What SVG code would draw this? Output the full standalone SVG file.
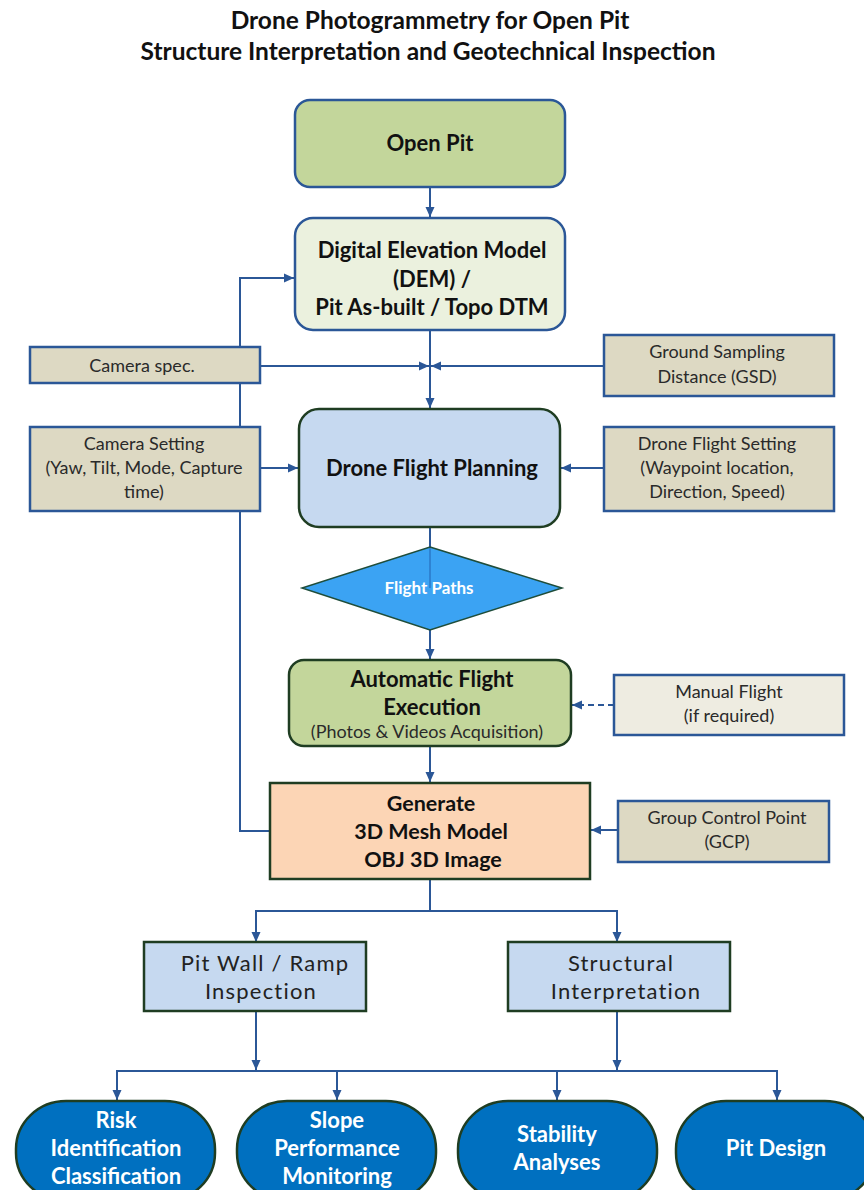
<svg xmlns="http://www.w3.org/2000/svg" width="864" height="1190" viewBox="0 0 864 1190">
<defs>
<marker id="ah" markerUnits="userSpaceOnUse" markerWidth="10" markerHeight="10" viewBox="0 0 10 10" refX="10" refY="5" orient="auto">
<path d="M0,0.5 L10,5 L0,9.5 Z" fill="#2b5797"/>
</marker>
<style>
.c{fill:none;stroke:#2b5797;stroke-width:2}
.bl{stroke:#2b5797;stroke-width:2.5}
.gr{stroke:#1f3d22;stroke-width:2.5}
.tan{fill:#ddd9c3}
.t{font-family:Lato,"Liberation Sans",sans-serif;fill:#111;text-anchor:middle}
.h{font-weight:bold;font-size:24.5px}
.b{font-weight:bold;font-size:22px}
.g{font-weight:bold;font-size:21.5px}
.s{font-size:18px;fill:#2a2a2a}
.m{font-size:22px;fill:#222;letter-spacing:1.2px}
.w{font-family:Lato,"Liberation Sans",sans-serif;fill:#fff;font-weight:bold;font-size:22px;text-anchor:middle}
.fp{font-family:Lato,"Liberation Sans",sans-serif;fill:#fff;font-weight:bold;font-size:17px;text-anchor:middle}
</style>
</defs>
<rect width="864" height="1190" fill="#fff"/>
<g id="title">
<text class="t h" x="430" y="29">Drone Photogrammetry for Open Pit</text>
<text class="t h" x="428" y="60">Structure Interpretation and Geotechnical Inspection</text>
</g>
<g id="connectors">
<line class="c" x1="430" y1="187" x2="430" y2="217" marker-end="url(#ah)"/>
<line class="c" x1="430" y1="330" x2="430" y2="408" marker-end="url(#ah)"/>
<polyline class="c" points="270,831 240,831 240,278 294,278" marker-end="url(#ah)"/>
<line class="c" x1="260" y1="366" x2="429" y2="366" marker-end="url(#ah)"/>
<line class="c" x1="604" y1="366" x2="431" y2="366" marker-end="url(#ah)"/>
<line class="c" x1="260" y1="468" x2="298" y2="468" marker-end="url(#ah)"/>
<line class="c" x1="604" y1="468" x2="561" y2="468" marker-end="url(#ah)"/>
<line class="c" x1="430" y1="527" x2="430" y2="548"/>
<line class="c" x1="430" y1="630" x2="430" y2="659" marker-end="url(#ah)"/>
<line class="c" x1="614" y1="705" x2="572" y2="705" stroke-dasharray="6,4" marker-end="url(#ah)"/>
<line class="c" x1="430" y1="746" x2="430" y2="782" marker-end="url(#ah)"/>
<line class="c" x1="618" y1="830" x2="591" y2="830" marker-end="url(#ah)"/>
<line class="c" x1="430" y1="879" x2="430" y2="911"/>
<polyline class="c" points="256,942 256,911 617,911 617,942"/>
<line class="c" x1="256" y1="930" x2="256" y2="942" marker-end="url(#ah)"/>
<line class="c" x1="617" y1="930" x2="617" y2="942" marker-end="url(#ah)"/>
<line class="c" x1="256" y1="1011" x2="256" y2="1070" marker-end="url(#ah)"/>
<line class="c" x1="617" y1="1011" x2="617" y2="1070" marker-end="url(#ah)"/>
<line class="c" x1="117" y1="1071" x2="778" y2="1071"/>
<line class="c" x1="117" y1="1070" x2="117" y2="1100" marker-end="url(#ah)"/>
<line class="c" x1="337" y1="1070" x2="337" y2="1100" marker-end="url(#ah)"/>
<line class="c" x1="557" y1="1070" x2="557" y2="1100" marker-end="url(#ah)"/>
<line class="c" x1="777" y1="1070" x2="777" y2="1100" marker-end="url(#ah)"/>
</g>
<g id="open-pit">
<rect class="bl" x="295" y="100" width="270" height="87" rx="15" fill="#c3d69b"/>
<text class="t b" x="430" y="151">Open Pit</text>
</g>
<g id="dem">
<rect class="bl" x="295" y="218" width="270" height="112" rx="18" fill="#ebf1de"/>
<text class="t b" x="432" y="258">Digital Elevation Model</text>
<text class="t b" x="432" y="287">(DEM) /</text>
<text class="t b" x="432" y="315">Pit As-built / Topo DTM</text>
</g>
<g id="camera-spec">
<rect class="bl tan" x="30" y="347" width="230" height="36"/>
<text class="t s" x="142" y="372">Camera spec.</text>
</g>
<g id="gsd">
<rect class="bl tan" x="604" y="335" width="230" height="61"/>
<text class="t s" x="717" y="358">Ground Sampling</text>
<text class="t s" x="717" y="383">Distance (GSD)</text>
</g>
<g id="camera-setting">
<rect class="bl tan" x="30" y="427" width="230" height="84"/>
<text class="t s" x="144" y="450">Camera Setting</text>
<text class="t s" x="144" y="474">(Yaw, Tilt, Mode, Capture</text>
<text class="t s" x="144" y="498">time)</text>
</g>
<g id="drone-flight-planning">
<rect class="gr" x="299" y="409" width="261" height="118" rx="20" fill="#c6d9f0"/>
<text class="t b" x="432" y="476">Drone Flight Planning</text>
</g>
<g id="drone-flight-setting">
<rect class="bl tan" x="604" y="427" width="230" height="84"/>
<text class="t s" x="717" y="450">Drone Flight Setting</text>
<text class="t s" x="717" y="474">(Waypoint location,</text>
<text class="t s" x="717" y="498">Direction, Speed)</text>
</g>
<g id="flight-paths">
<polygon points="430,547 562,588 430,630 302,588" fill="#3ba3f3" stroke="#1f4d3a" stroke-width="1.5"/>
<line x1="430" y1="548" x2="430" y2="588" stroke="#2b78c8" stroke-width="1.5"/>
<text class="fp" x="429" y="594">Flight Paths</text>
</g>
<g id="automatic-flight">
<rect class="gr" x="289" y="660" width="282" height="86" rx="15" fill="#c3d69b"/>
<text class="t b" x="432" y="687">Automatic Flight</text>
<text class="t b" x="432" y="715">Execution</text>
<text class="t s" x="427" y="738">(Photos &amp; Videos Acquisition)</text>
</g>
<g id="manual-flight">
<rect class="bl" x="614" y="675" width="230" height="60" fill="#eeece1"/>
<text class="t s" x="729" y="698">Manual Flight</text>
<text class="t s" x="729" y="722">(if required)</text>
</g>
<g id="generate">
<rect class="gr" x="270" y="783" width="320" height="96" fill="#fcd5b5"/>
<text class="t g" x="431" y="811">Generate</text>
<text class="t g" x="431" y="839">3D Mesh Model</text>
<text class="t g" x="433" y="867">OBJ 3D Image</text>
</g>
<g id="gcp">
<rect class="bl tan" x="618" y="801" width="211" height="61"/>
<text class="t s" x="727" y="824">Group Control Point</text>
<text class="t s" x="727" y="848">(GCP)</text>
</g>
<g id="pit-wall">
<rect class="gr" x="144" y="942" width="222" height="69" fill="#c6d9f0"/>
<text class="t m" x="265" y="971">Pit Wall / Ramp</text>
<text class="t m" x="261" y="999">Inspection</text>
</g>
<g id="structural">
<rect class="gr" x="508" y="942" width="222" height="69" fill="#c6d9f0"/>
<text class="t m" x="621" y="971">Structural</text>
<text class="t m" x="626" y="999">Interpretation</text>
</g>
<g id="risk">
<rect class="gr" x="16" y="1101" width="199" height="100" rx="50" ry="48" fill="#0070c0"/>
<text class="w" x="116" y="1128">Risk</text>
<text class="w" x="116" y="1156">Identification</text>
<text class="w" x="116" y="1184">Classification</text>
</g>
<g id="slope">
<rect class="gr" x="237" y="1101" width="199" height="100" rx="50" ry="48" fill="#0070c0"/>
<text class="w" x="337" y="1128">Slope</text>
<text class="w" x="337" y="1156">Performance</text>
<text class="w" x="337" y="1184">Monitoring</text>
</g>
<g id="stability">
<rect class="gr" x="458" y="1101" width="199" height="100" rx="50" ry="48" fill="#0070c0"/>
<text class="w" x="557" y="1142">Stability</text>
<text class="w" x="557" y="1170">Analyses</text>
</g>
<g id="pit-design">
<rect class="gr" x="676" y="1101" width="199" height="100" rx="50" ry="48" fill="#0070c0"/>
<text class="w" x="776" y="1156">Pit Design</text>
</g>
</svg>
